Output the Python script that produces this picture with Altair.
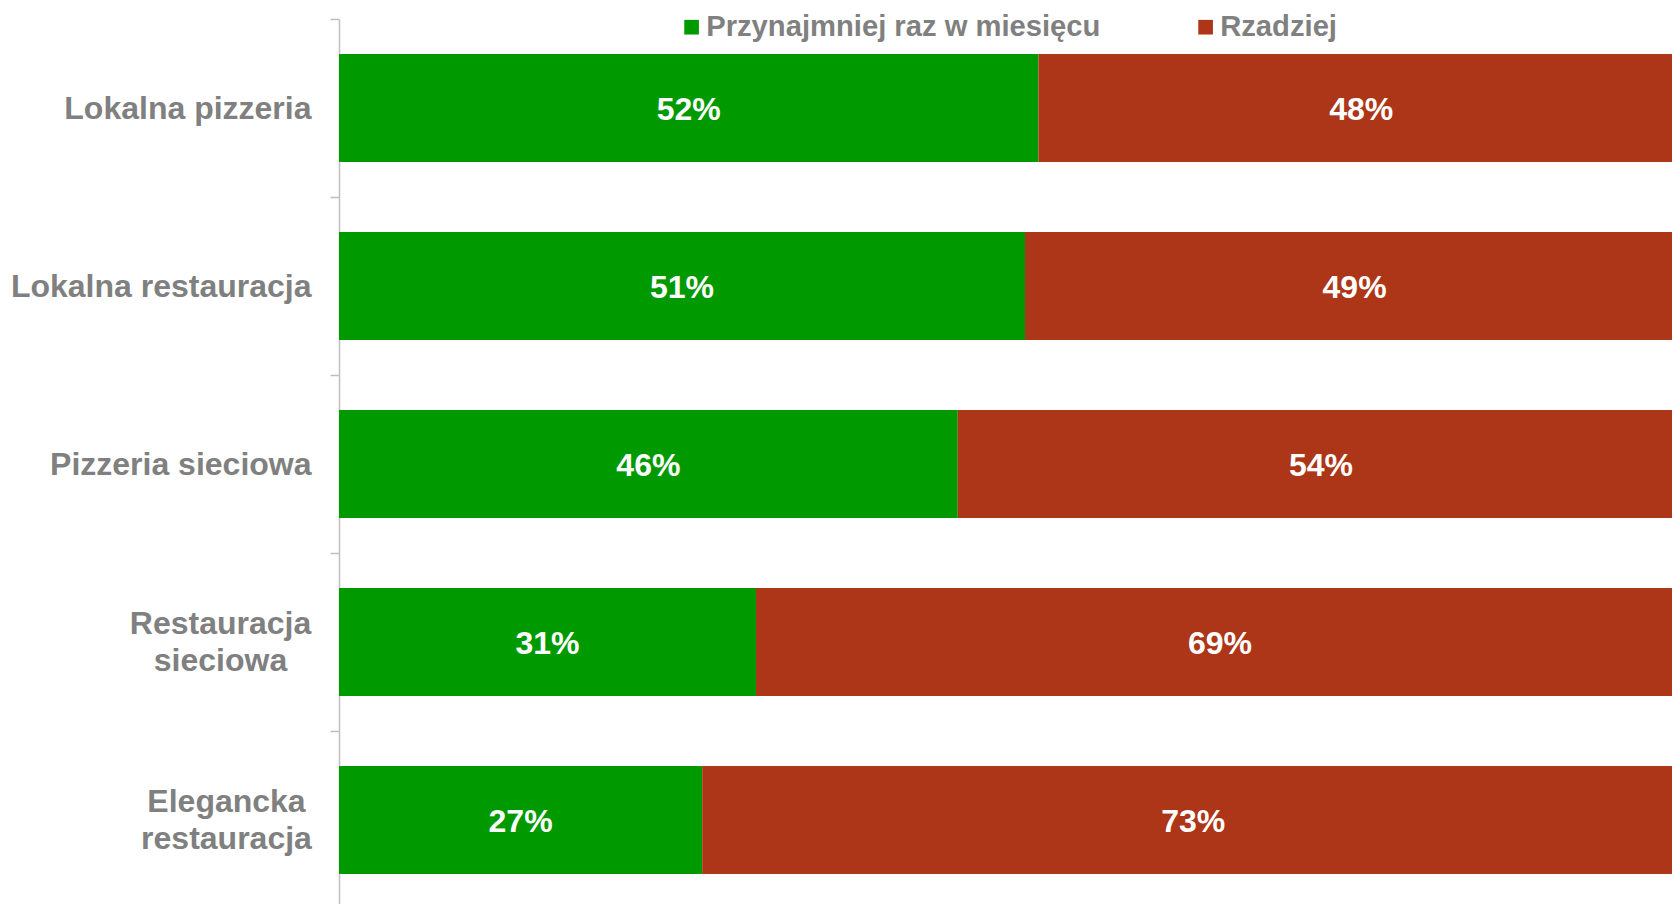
import altair as alt
import pandas as pd

categories = ["Lokalna pizzeria", "Lokalna restauracja", "Pizzeria sieciowa",
              "Restauracja sieciowa", "Elegancka restauracja"]
series = ["Przynajmniej raz w miesięcu", "Rzadziej"]
monthly = [52, 51, 46, 31, 27]
rarely = [48, 49, 54, 69, 73]
colors = ["#009900", "#AD3518"]

rows = []
for i, c in enumerate(categories):
    rows.append({"cat": c, "series": series[0], "order": 0, "value": monthly[i]})
    rows.append({"cat": c, "series": series[1], "order": 1, "value": rarely[i]})
df = pd.DataFrame(rows)

FONT = "Liberation Sans"
GREY = "#808080"
MULTI_TEST = "indexof(['Restauracja sieciowa','Elegancka restauracja'], datum.value) >= 0"

y_enc = alt.Y(
    "cat:N",
    sort=categories,
    scale=alt.Scale(paddingInner=0, paddingOuter=0),
    axis=alt.Axis(
        title=None,
        domainColor="#BFBFBF",
        domainWidth=1.5,
        tickColor="#BFBFBF",
        tickWidth=1.5,
        tickSize=9,
        tickBand="extent",
        labelFont=FONT,
        labelFontSize=32,
        labelFontWeight="bold",
        labelColor=GREY,
        labelLimit=500,
        labelLineHeight=37,
        labelExpr="indexof(['Restauracja sieciowa','Elegancka restauracja'], datum.label) >= 0 ? split(datum.label, ' ') : datum.label",
        labelAlign={
            "condition": {"test": MULTI_TEST, "value": "center"},
            "value": "right",
        },
        labelOffset={
            "condition": {"test": MULTI_TEST, "value": -19},
            "value": 0,
        },
        labelPadding={
            "condition": [
                {"test": "datum.value == 'Restauracja sieciowa'", "value": 110},
                {"test": "datum.value == 'Elegancka restauracja'", "value": 104},
            ],
            "value": 19,
        },
    ),
)

base = alt.Chart(df).transform_stack(
    stack="value", as_=["start", "end"], groupby=["cat"],
    sort=[alt.SortField("order", order="ascending")],
).transform_calculate(
    mid="(datum.start + datum.end) / 2",
    label="datum.value + '%'",
)

x_scale = alt.Scale(domain=[0, 99.1])

bars = base.mark_bar(height={"band": 0.607}).encode(
    x=alt.X("start:Q", scale=x_scale, axis=None),
    x2="end:Q",
    y=y_enc,
    color=alt.Color(
        "series:N",
        scale=alt.Scale(domain=series, range=colors),
        legend=alt.Legend(
            title=None,
            orient="none",
            legendX=338,
            legendY=-6.5,
            direction="horizontal",
            symbolType="square",
            symbolSize=215,
            symbolStrokeWidth=0,
            labelFont=FONT,
            labelFontSize=29.2,
            labelFontWeight="bold",
            labelColor=GREY,
            labelOffset=0,
            columnPadding=90,
            padding=0,
            labelLimit=600,
        ),
    ),
)

texts = base.mark_text(
    font=FONT, fontSize=32, fontWeight="bold", color="white",
    align="center", baseline="middle", dy=2,
).encode(
    x=alt.X("mid:Q", scale=x_scale, axis=None),
    y=y_enc,
    text="label:N",
)

chart = alt.layer(bars, texts).properties(
    width=1333,
    height=890,
    padding={"left": 331, "top": 11, "right": 0, "bottom": 0},
    autosize=alt.AutoSizeParams(type="none"),
).configure_view(stroke=None)

chart.save("out.html", embed_options={"renderer": "svg", "actions": False})
